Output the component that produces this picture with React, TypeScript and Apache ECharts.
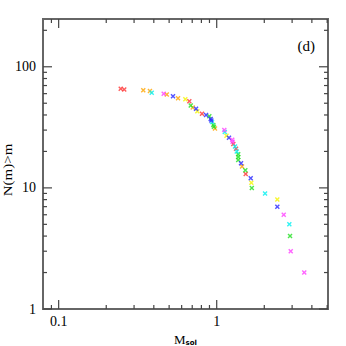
import React, { useEffect, useRef } from "react";
import * as echarts from "echarts";

const redPoints = [[0.247, 66], [0.26, 65], [0.671, 52], [0.807, 41], [1.274, 23], [1.325, 21], [1.526, 13]];
const orangePoints = [[0.343, 64], [0.378, 63], [0.483, 59], [0.569, 55], [0.705, 46], [0.975, 31], [1.446, 15]];
const yellowPoints = [[0.633, 54], [0.754, 43], [1.153, 27], [1.656, 11], [2.418, 8]];
const greenPoints = [[0.685, 48], [0.898, 39], [0.952, 33], [0.96, 32], [1.368, 19], [1.368, 18], [1.368, 17], [1.517, 14], [1.668, 10], [2.91, 4]];
const cyanPoints = [[0.388, 61], [0.934, 35], [1.125, 29], [1.306, 22], [1.339, 20], [2.022, 9], [2.881, 5]];
const bluePoints = [[0.529, 57], [0.74, 45], [0.856, 40], [0.916, 37], [0.925, 36], [1.196, 26], [1.425, 16], [1.641, 12], [2.418, 7]];
const magentaPoints = [[0.462, 60], [1.117, 30], [1.254, 25], [1.26, 24], [2.655, 6], [2.94, 3], [3.58, 2]];

const xMajorTicks = [0.1, 1];
const xMinorTicks = [0.09, 0.2, 0.3, 0.4, 0.5, 0.6, 0.7, 0.8, 0.9, 2, 3, 4, 5];
const yMajorTicks = [1, 10, 100];
const yMinorTicks = [2, 3, 4, 5, 6, 7, 8, 9, 20, 30, 40, 50, 60, 70, 80, 90, 200];

const X_MIN = 0.0796;
const X_MAX = 5.06;
const Y_MIN = 1;
const Y_MAX = 248;

const SERIES = [
  { data: redPoints, color: "#ff3333" },
  { data: orangePoints, color: "#ffa500" },
  { data: yellowPoints, color: "#f5f500" },
  { data: greenPoints, color: "#22e022" },
  { data: cyanPoints, color: "#00f0f0" },
  { data: bluePoints, color: "#2828ff" },
  { data: magentaPoints, color: "#ff40ff" },
];

const FONT = "Liberation Serif";
const X_SYMBOL = "path://M0,2L2,0L5,3L8,0L10,2L7,5L10,8L8,10L5,7L2,10L0,8L3,5Z";
const AXIS_COLOR = "#666";
const TICK_COLOR = "#444";
const MAJOR_LEN = 9;
const MINOR_LEN = 4;

export default function App() {
  const ref = useRef<HTMLDivElement>(null);
  useEffect(() => {
    if (!ref.current) return;
    const chart = echarts.init(ref.current, null, { renderer: "svg" });

    chart.setOption({
      animation: false,
      backgroundColor: "#fff",
      grid: {
        left: 43,
        right: 18,
        top: 19,
        bottom: 37,
        outerBoundsMode: "none",
        containLabel: false,
        show: true,
        borderColor: AXIS_COLOR,
        borderWidth: 2,
      },
      xAxis: {
        type: "log",
        logBase: 10,
        min: X_MIN,
        max: X_MAX,
        splitLine: { show: false },
        axisLine: { show: true, lineStyle: { color: AXIS_COLOR, width: 2 } },
        axisTick: { show: false },
        axisLabel: {
          customValues: xMajorTicks,
          formatter: (v: number) => String(v),
          fontFamily: FONT,
          fontSize: 14,
          color: "#000",
          margin: 5,
        },
        name: "{m|M}{s|sol}",
        nameLocation: "middle",
        nameGap: 20,
        nameTextStyle: {
          rich: {
            m: { fontFamily: FONT, fontSize: 13, color: "#000", verticalAlign: "top" },
            s: { fontFamily: "DejaVu Sans", fontSize: 7, fontWeight: "bold", color: "#000", padding: [7, 0, 0, 0], verticalAlign: "top" },
          },
        },
      },
      yAxis: {
        type: "log",
        logBase: 10,
        min: Y_MIN,
        max: Y_MAX,
        splitLine: { show: false },
        axisLine: { show: true, lineStyle: { color: AXIS_COLOR, width: 2 } },
        axisTick: { show: false },
        axisLabel: {
          customValues: yMajorTicks,
          formatter: (v: number) => String(v),
          fontFamily: FONT,
          fontSize: 14,
          color: "#000",
          margin: 7,
        },
      },
      series: SERIES.map((s) => ({
        type: "scatter",
        data: s.data,
        symbol: X_SYMBOL,
        symbolSize: 5,
        itemStyle: { color: s.color },
      })),
    });

    const [left, bottom] = chart.convertToPixel({ gridIndex: 0 }, [X_MIN, Y_MIN]) as number[];
    const [right, top] = chart.convertToPixel({ gridIndex: 0 }, [X_MAX, Y_MAX]) as number[];
    const style = { stroke: TICK_COLOR, lineWidth: 1.2 };
    const ticks: any[] = [];
    const addX = (vals: number[], len: number) =>
      vals.forEach((v) => {
        const px = chart.convertToPixel({ xAxisIndex: 0 }, v) as number;
        ticks.push({ type: "line", silent: true, z: 10, shape: { x1: px, y1: bottom, x2: px, y2: bottom - len }, style });
        ticks.push({ type: "line", silent: true, z: 10, shape: { x1: px, y1: top, x2: px, y2: top + len }, style });
      });
    const addY = (vals: number[], len: number) =>
      vals.forEach((v) => {
        const py = chart.convertToPixel({ yAxisIndex: 0 }, v) as number;
        ticks.push({ type: "line", silent: true, z: 10, shape: { x1: left, y1: py, x2: left + len, y2: py }, style });
        ticks.push({ type: "line", silent: true, z: 10, shape: { x1: right, y1: py, x2: right - len, y2: py }, style });
      });
    addX(xMajorTicks, MAJOR_LEN);
    addX(xMinorTicks, MINOR_LEN);
    addY(yMajorTicks, MAJOR_LEN);
    addY(yMinorTicks, MINOR_LEN);

    chart.setOption({
      graphic: [
        ...ticks,
        {
          type: "text",
          right: 31,
          top: 38,
          style: { text: "(d)", fontFamily: FONT, fontSize: 15, fill: "#000" },
        },
        {
          type: "text",
          x: 8,
          y: 170,
          rotation: Math.PI / 2,
          scaleX: 1.25,
          style: {
            text: "N(m)>m",
            fontFamily: FONT,
            fontSize: 12,
            fill: "#000",
            align: "center",
            verticalAlign: "middle",
          },
        },
      ],
    });
    return () => chart.dispose();
  }, []);
  return <div ref={ref} style={{ position: "fixed", left: 0, top: 0, width: 346, height: 346 }} />;
}
